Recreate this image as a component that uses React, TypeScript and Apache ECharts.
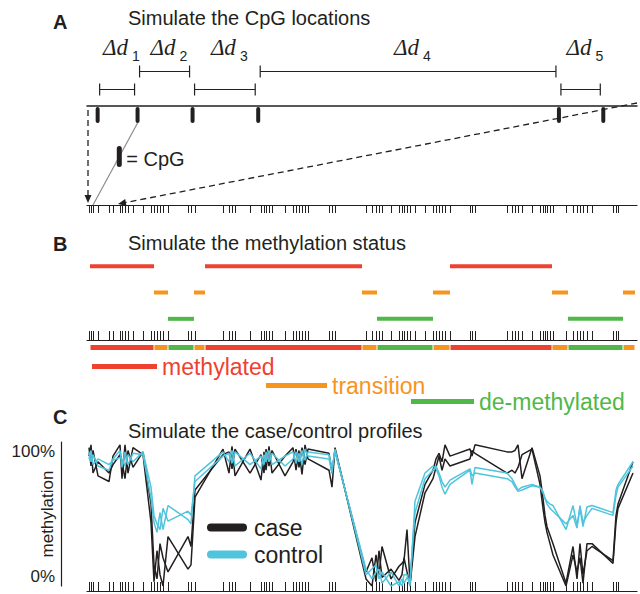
import React, { useEffect, useRef } from "react";
import * as echarts from "echarts";

const FONT = '"Liberation Sans", Arial, Helvetica, sans-serif';
const SERIF = '"Liberation Serif", "Times New Roman", serif';
const INK = "#231f20";
const GREY = "#8c8c8c";
const STATE_COLORS = ["#ee4130", "#f7941e", "#50b848"];
const CASE_COLOR = "#231f20";
const CONTROL_COLOR = "#4fc4dc";

// ---- Panel A: zoomed window (genomic units) and the CpGs inside it ----
const zoomWindow = [0, 62];
const zoomCpG = [1.2, 5.7, 11.9, 19.3, 53.2, 58.2];
const deltaLabels = ["1", "2", "3", "4", "5"];

// ---- CpG locations along the simulated region (genomic units) ----
const regionLength = 1100;
const cpgPos = [
  4, 8, 12, 22, 44, 52, 66, 70, 76, 82, 92, 112, 128, 134, 140, 146, 152, 162, 202, 208, 216,
  272, 284, 290, 296, 326, 348, 354, 358, 364, 370, 396, 412, 418, 424, 430, 436, 442, 484, 490, 496,
  558, 570, 578, 584, 590, 608, 624, 630, 634, 640, 646, 656, 676, 692, 698, 704, 710, 716, 726, 766, 770, 776,
  840, 850, 856, 862, 870, 890, 906, 912, 916, 920, 926, 932, 958, 972, 980, 986, 992, 1000, 1010, 1052, 1058, 1062,
];
const profileEnd = 1092;

// ---- Panel B: methylation status segments ----
const states = ["methylated", "transition", "de-methylated"];
const segStart = [6, 134, 162, 214, 236, 550, 580, 692, 726, 930, 962, 1072];
const segEnd = [134, 162, 214, 236, 550, 580, 692, 726, 930, 962, 1072, 1096];
const segState = [0, 1, 2, 1, 0, 1, 2, 1, 0, 1, 2, 1];

// ---- Panel C: case / control methylation profiles (one value per CpG + end) ----
const caseA = [
  0.98, 0.85, 0.96, 0.78, 0.74, 0.92, 1.0, 0.76, 1.0, 0.8, 0.98, 0.93, 0.45, 0.03, 0.25, 0.08, 0.0, 0.35, 0.12, 0.15, 0.63,
  0.97, 0.8, 0.99, 0.78, 0.97, 0.75, 0.95, 0.82, 0.99, 0.8, 0.92, 0.98, 0.82, 0.96, 0.79, 1.0, 0.9, 0.82, 0.7, 0.98,
  0.05, 0.0, 0.22, 0.08, 0.28, 0.05, 0.14, 0.16, 0.18, 0.4, 0.02, 0.45, 0.72, 0.82, 0.9, 0.94, 0.88, 1.0, 0.92, 0.97, 0.92, 1.0,
  0.95, 0.95, 0.96, 1.0, 0.76, 0.98, 0.78, 0.62, 0.5, 0.42, 0.36, 0.3, 0.02, 0.28, 0.05, 0.3, 0.08, 0.25, 0.28, 0.18, 0.5, 0.58, 0.88,
];
const caseB = [
  0.92, 1.0, 0.8, 0.88, 0.8, 0.86, 0.93, 0.88, 0.76, 0.96, 0.84, 0.95, 0.58, 0.15, 0.05, 0.3, 0.2, 0.1, 0.35, 0.28, 0.68,
  0.93, 0.95, 0.83, 0.97, 0.8, 0.93, 0.8, 0.97, 0.85, 0.96, 0.78, 0.88, 0.97, 0.84, 0.98, 0.86, 0.97, 0.94, 0.8, 0.96,
  0.1, 0.2, 0.03, 0.25, 0.06, 0.12, 0.04, 0.08, 0.2, 0.1, 0.0, 0.35, 0.66, 0.76, 0.84, 0.92, 0.82, 0.9, 0.85, 0.9, 0.96, 0.94,
  0.8, 0.82, 0.8, 0.84, 0.93, 0.97, 0.72, 0.55, 0.45, 0.38, 0.3, 0.22, 0.0, 0.22, 0.1, 0.2, 0.02, 0.3, 0.3, 0.16, 0.45, 0.55, 0.8,
];
const controlA = [
  0.95, 0.88, 0.93, 0.85, 0.82, 0.9, 0.96, 0.84, 0.95, 0.86, 0.94, 0.93, 0.62, 0.45, 0.38, 0.52, 0.4, 0.57, 0.47, 0.44, 0.78,
  0.95, 0.88, 0.96, 0.85, 0.94, 0.83, 0.93, 0.88, 0.96, 0.86, 0.92, 0.95, 0.87, 0.94, 0.86, 0.97, 0.92, 0.9, 0.8, 0.97,
  0.08, 0.12, 0.15, 0.05, 0.1, 0.0, 0.03, 0.0, 0.08, 0.08, 0.0, 0.6, 0.8, 0.85, 0.83, 0.78, 0.7, 0.65, 0.72, 0.82, 0.72, 0.84,
  0.8, 0.76, 0.72, 0.68, 0.7, 0.72, 0.7, 0.66, 0.62, 0.6, 0.58, 0.57, 0.4, 0.57, 0.43, 0.55, 0.42, 0.56, 0.57, 0.52, 0.68, 0.72, 0.88,
];
const controlB = [
  0.9, 0.96, 0.86, 0.9, 0.86, 0.89, 0.91, 0.9, 0.85, 0.93, 0.88, 0.95, 0.7, 0.5, 0.44, 0.4, 0.55, 0.46, 0.53, 0.5, 0.74,
  0.92, 0.94, 0.87, 0.95, 0.86, 0.92, 0.86, 0.95, 0.88, 0.94, 0.85, 0.9, 0.95, 0.88, 0.96, 0.89, 0.95, 0.93, 0.84, 0.95,
  0.12, 0.05, 0.1, 0.12, 0.02, 0.1, 0.0, 0.05, 0.02, 0.06, 0.04, 0.52, 0.76, 0.82, 0.85, 0.8, 0.74, 0.7, 0.75, 0.83, 0.78, 0.8,
  0.76, 0.74, 0.7, 0.67, 0.68, 0.71, 0.7, 0.67, 0.62, 0.58, 0.55, 0.53, 0.44, 0.5, 0.41, 0.57, 0.45, 0.5, 0.55, 0.5, 0.64, 0.7, 0.85,
];

const L = 87;
const R = 3;

function xAx(gridIndex: number, opts: any = {}) {
  return {
    type: "value",
    gridIndex,
    min: 0,
    max: regionLength,
    axisLine: { show: false, onZero: false, lineStyle: { color: INK, width: 1.2 } },
    axisTick: { show: false },
    axisLabel: { show: false },
    splitLine: { show: false },
    ...opts,
  };
}
function yAx(gridIndex: number) {
  return { type: "value", gridIndex, min: 0, max: 1, show: false, splitLine: { show: false } };
}

function rugSeries(g: number) {
  return {
    type: "custom",
    xAxisIndex: g,
    yAxisIndex: g,
    silent: true,
    clip: false,
    data: cpgPos.map((p) => [p, 0]),
    encode: { x: 0, y: 1 },
    renderItem: (_p: any, api: any) => {
      const t = api.coord([api.value(0), 1]);
      const b = api.coord([api.value(0), 0]);
      const x = Math.round(t[0]) + 0.5;
      return {
        type: "line",
        shape: { x1: x, y1: t[1], x2: x, y2: b[1] },
        style: { stroke: INK, lineWidth: 1 },
      };
    },
  };
}

function lineSeries(name: string, vals: number[], color: string, z: number) {
  const xs = [...cpgPos, profileEnd];
  return {
    type: "line",
    name,
    xAxisIndex: 5,
    yAxisIndex: 5,
    data: xs.map((x, i) => [x, vals[i]]),
    showSymbol: false,
    symbol: "none",
    silent: true,
    z,
    lineStyle: { color, width: 1.5 },
    itemStyle: { color },
  };
}

const legendBase = { padding: 0, selectedMode: false, icon: "rect" };
const roundIcon = "path://M4,0H36A4,4,0,0,1,36,8H4A4,4,0,0,1,4,0Z";

function gridBox(top: number, height: number) {
  return { left: L, right: R, top, height, outerBoundsMode: "none", containLabel: false };
}

function buildOption(): any {
  const titleStyle = { fontSize: 20, fontWeight: "normal", color: INK, fontFamily: FONT };
  const letterStyle = { fontSize: 20, fontWeight: "bold", color: INK, fontFamily: FONT };
  return {
    animation: false,
    backgroundColor: "#ffffff",
    title: [
      { text: "A", left: 53, top: 12, padding: 0, textStyle: letterStyle },
      { text: "Simulate the CpG locations", left: 128, top: 8, padding: 0, textStyle: titleStyle },
      { text: "B", left: 53, top: 234, padding: 0, textStyle: letterStyle },
      { text: "Simulate the methylation status", left: 128, top: 233, padding: 0, textStyle: titleStyle },
      { text: "C", left: 53, top: 407, padding: 0, textStyle: letterStyle },
      { text: "Simulate the case/control profiles", left: 128, top: 421, padding: 0, textStyle: titleStyle },
    ],
    grid: [
      gridBox(106, 17),
      gridBox(205, 8),
      gridBox(253, 79),
      gridBox(331, 9),
      gridBox(345, 5),
      gridBox(442, 144),
      gridBox(582, 9),
    ],
    xAxis: [
      xAx(0, {
        min: zoomWindow[0],
        max: zoomWindow[1],
        position: "top",
        axisLine: { show: true, onZero: false, lineStyle: { color: INK, width: 1.5 } },
      }),
      xAx(1, { position: "top", axisLine: { show: true, onZero: false, lineStyle: { color: INK, width: 1.2 } } }),
      xAx(2),
      xAx(3, { position: "bottom", axisLine: { show: true, onZero: false, lineStyle: { color: INK, width: 1.2 } } }),
      xAx(4),
      xAx(5),
      xAx(6, { position: "bottom", axisLine: { show: true, onZero: false, lineStyle: { color: INK, width: 1.2 } } }),
    ],
    yAxis: [
      yAx(0),
      yAx(1),
      { type: "category", gridIndex: 2, data: states, inverse: true, show: false },
      yAx(3),
      yAx(4),
      {
        type: "value",
        gridIndex: 5,
        min: 0,
        max: 1.02,
        offset: 26,
        axisLine: { show: true, onZero: false, lineStyle: { color: INK, width: 1.2 } },
        axisTick: { show: false },
        splitLine: { show: false },
        axisLabel: {
          customValues: [0, 1],
          margin: 6,
          formatter: (v: number) => (v > 0.5 ? "{a|100%}" : "{b|0%}"),
          rich: {
            a: { fontSize: 17, fontFamily: FONT, color: INK, padding: [14, 0, 0, 0] },
            b: { fontSize: 17, fontFamily: FONT, color: INK, padding: [0, 0, 20, 0] },
          },
        },
        name: "methylation",
        nameLocation: "middle",
        nameRotate: 90,
        nameGap: 5,
        nameMoveOverlap: false,
        nameTextStyle: { fontSize: 17, fontFamily: FONT, color: INK },
      },
      yAx(6),
    ],
    legend: [
      {
        ...legendBase,
        data: ["methylated"],
        left: 92,
        top: 355,
        itemWidth: 65,
        itemHeight: 5,
        textStyle: { color: STATE_COLORS[0], fontSize: 23, fontFamily: FONT },
      },
      {
        ...legendBase,
        data: ["transition"],
        left: 266,
        top: 374,
        itemWidth: 61,
        itemHeight: 5,
        textStyle: { color: STATE_COLORS[1], fontSize: 23, fontFamily: FONT },
      },
      {
        ...legendBase,
        data: ["de-methylated"],
        left: 411,
        top: 390,
        itemWidth: 63,
        itemHeight: 5,
        textStyle: { color: STATE_COLORS[2], fontSize: 23, fontFamily: FONT },
      },
      {
        ...legendBase,
        icon: roundIcon,
        data: ["case", "control"],
        orient: "vertical",
        left: 207,
        top: 516,
        itemGap: 4,
        itemWidth: 40,
        itemHeight: 8,
        textStyle: { color: INK, fontSize: 23, fontFamily: FONT, padding: [0, 0, 0, 2] },
      },
    ],
    series: [
      // zoomed CpG ticks (panel A)
      {
        type: "custom",
        xAxisIndex: 0,
        yAxisIndex: 0,
        silent: true,
        clip: false,
        data: zoomCpG.map((p) => [p, 0]),
        encode: { x: 0, y: 1 },
        renderItem: (_p: any, api: any) => {
          const t = api.coord([api.value(0), 1]);
          const b = api.coord([api.value(0), 0]);
          return {
            type: "line",
            shape: { x1: t[0], y1: t[1] + 3, x2: b[0], y2: b[1] - 2 },
            style: { stroke: INK, lineWidth: 4, lineCap: "round" },
          };
        },
      },
      // distance brackets Δd (panel A)
      {
        type: "custom",
        xAxisIndex: 0,
        yAxisIndex: 0,
        silent: true,
        clip: false,
        data: zoomCpG.slice(0, -1).map((p, i) => [p, zoomCpG[i + 1], i, 1]),
        encode: { x: [0, 1], y: 3 },
        renderItem: (_p: any, api: any) => {
          const i = api.value(2);
          const a = api.coord([api.value(0), 1]);
          const b = api.coord([api.value(1), 1]);
          const lineY = a[1];
          const y = Math.round(lineY - (i % 2 === 0 ? 17 : 35)) + 0.5;
          const x0 = a[0] + 2;
          const x1 = b[0] - 3;
          const mid = (x0 + x1) / 2;
          const st = { stroke: INK, lineWidth: 1.2 };
          return {
            type: "group",
            children: [
              { type: "line", shape: { x1: x0, y1: y, x2: x1, y2: y }, style: st },
              { type: "line", shape: { x1: x0, y1: y - 6, x2: x0, y2: y + 6 }, style: st },
              { type: "line", shape: { x1: x1, y1: y - 6, x2: x1, y2: y + 6 }, style: st },
              {
                type: "text",
                style: {
                  text: "Δd",
                  x: mid - 14,
                  y: lineY - 59,
                  fontFamily: SERIF,
                  fontStyle: "italic",
                  fontSize: 23,
                  fill: INK,
                  align: "left",
                  verticalAlign: "middle",
                },
              },
              {
                type: "text",
                style: {
                  text: deltaLabels[i],
                  x: mid + 15,
                  y: lineY - 50,
                  fontFamily: FONT,
                  fontSize: 14,
                  fill: INK,
                  align: "left",
                  verticalAlign: "middle",
                },
              },
            ],
          };
        },
      },
      rugSeries(1),
      // methylation state lanes (panel B)
      ...states.map((name, s) => ({
        type: "custom",
        name,
        xAxisIndex: 2,
        yAxisIndex: 2,
        silent: true,
        itemStyle: { color: STATE_COLORS[s] },
        data: segState
          .map((st, k) => (st === s ? [segStart[k], segEnd[k], s] : null))
          .filter((d) => d !== null),
        encode: { x: [0, 1], y: 2 },
        renderItem: (_p: any, api: any) => {
          const a = api.coord([api.value(0), api.value(2)]);
          const b = api.coord([api.value(1), api.value(2)]);
          return {
            type: "rect",
            shape: { x: a[0], y: a[1] - 2, width: b[0] - a[0], height: 4 },
            style: { fill: STATE_COLORS[s] },
          };
        },
      })),
      rugSeries(3),
      // combined state bar
      {
        type: "custom",
        xAxisIndex: 4,
        yAxisIndex: 4,
        silent: true,
        data: segStart.map((s, k) => [s, segEnd[k], segState[k], 0]),
        encode: { x: [0, 1], y: 3 },
        renderItem: (_p: any, api: any) => {
          const a = api.coord([api.value(0), 1]);
          const b = api.coord([api.value(1), 0]);
          return {
            type: "rect",
            shape: { x: a[0] + 0.5, y: a[1], width: b[0] - a[0] - 1, height: b[1] - a[1] },
            style: { fill: STATE_COLORS[api.value(2)] },
          };
        },
      },
      // profiles (panel C)
      lineSeries("case", caseA, CASE_COLOR, 3),
      lineSeries("case", caseB, CASE_COLOR, 3),
      lineSeries("control", controlA, CONTROL_COLOR, 4),
      lineSeries("control", controlB, CONTROL_COLOR, 4),
      rugSeries(6),
    ],
  };
}

function arrowHead(tip: number[], from: number[], len = 8, half = 3.5) {
  const dx = tip[0] - from[0];
  const dy = tip[1] - from[1];
  const d = Math.hypot(dx, dy) || 1;
  const ux = dx / d;
  const uy = dy / d;
  const bx = tip[0] - ux * len;
  const by = tip[1] - uy * len;
  return {
    type: "polygon",
    shape: {
      points: [
        [tip[0], tip[1]],
        [bx - uy * half, by + ux * half],
        [bx + uy * half, by - ux * half],
      ],
    },
    style: { fill: INK },
    z: 10,
  };
}

export default function App() {
  const ref = useRef<HTMLDivElement>(null);
  useEffect(() => {
    if (!ref.current) return;
    const chart = echarts.init(ref.current, null, { renderer: "svg" });
    chart.setOption(buildOption());

    const px = (g: number, v: number[]) => chart.convertToPixel({ gridIndex: g } as any, v) as number[];
    const topL = px(0, [zoomWindow[0], 1]);
    const topR = px(0, [zoomWindow[1], 1]);
    const rugL = px(1, [zoomWindow[0], 1]);
    const rugR = px(1, [zoomWindow[1], 1]);

    const lStart = [topL[0] + 1, topL[1] + 4];
    const lTip = [rugL[0] + 1, rugL[1] - 2];
    const rStart = [topR[0], topR[1] - 3];
    const rTip = [rugR[0], rugR[1] - 1];
    const shorten = (tip: number[], from: number[], k: number) => {
      const dx = tip[0] - from[0];
      const dy = tip[1] - from[1];
      const d = Math.hypot(dx, dy) || 1;
      return [tip[0] - (dx / d) * k, tip[1] - (dy / d) * k];
    };
    const lEnd = shorten(lTip, lStart, 6);
    const rEnd = shorten(rTip, rStart, 6);

    const g0 = px(0, [zoomCpG[1], 0]);
    const g1 = px(1, [cpgPos[2], 1]);
    const t = 0.41;
    const m = [g0[0] + (g1[0] - g0[0]) * t, g0[1] + (g1[1] - g0[1]) * t];

    const dash = { stroke: INK, lineWidth: 1.3, lineDash: [6, 4] };
    chart.setOption({
      graphic: [
        { type: "line", shape: { x1: lStart[0], y1: lStart[1], x2: lEnd[0], y2: lEnd[1] }, style: dash, z: 10 },
        arrowHead(lTip, lStart),
        { type: "line", shape: { x1: rStart[0], y1: rStart[1], x2: rEnd[0], y2: rEnd[1] }, style: dash, z: 10 },
        arrowHead(rTip, rStart),
        { type: "line", shape: { x1: g0[0], y1: g0[1], x2: g1[0], y2: g1[1] }, style: { stroke: GREY, lineWidth: 1.2 }, z: 10 },
        {
          type: "line",
          shape: { x1: m[0], y1: m[1] - 8, x2: m[0], y2: m[1] + 8 },
          style: { stroke: INK, lineWidth: 5, lineCap: "round" },
          z: 11,
        },
        {
          type: "text",
          x: m[0] + 7,
          y: m[1] + 2,
          style: { text: "= CpG", fontSize: 20, fontFamily: FONT, fill: INK, verticalAlign: "middle", align: "left" },
          z: 11,
        },
      ],
    });

    return () => chart.dispose();
  }, []);
  return (
    <div
      ref={ref}
      style={{ position: "fixed", left: 0, top: 0, width: 640, height: 594, background: "#fff" }}
    />
  );
}
